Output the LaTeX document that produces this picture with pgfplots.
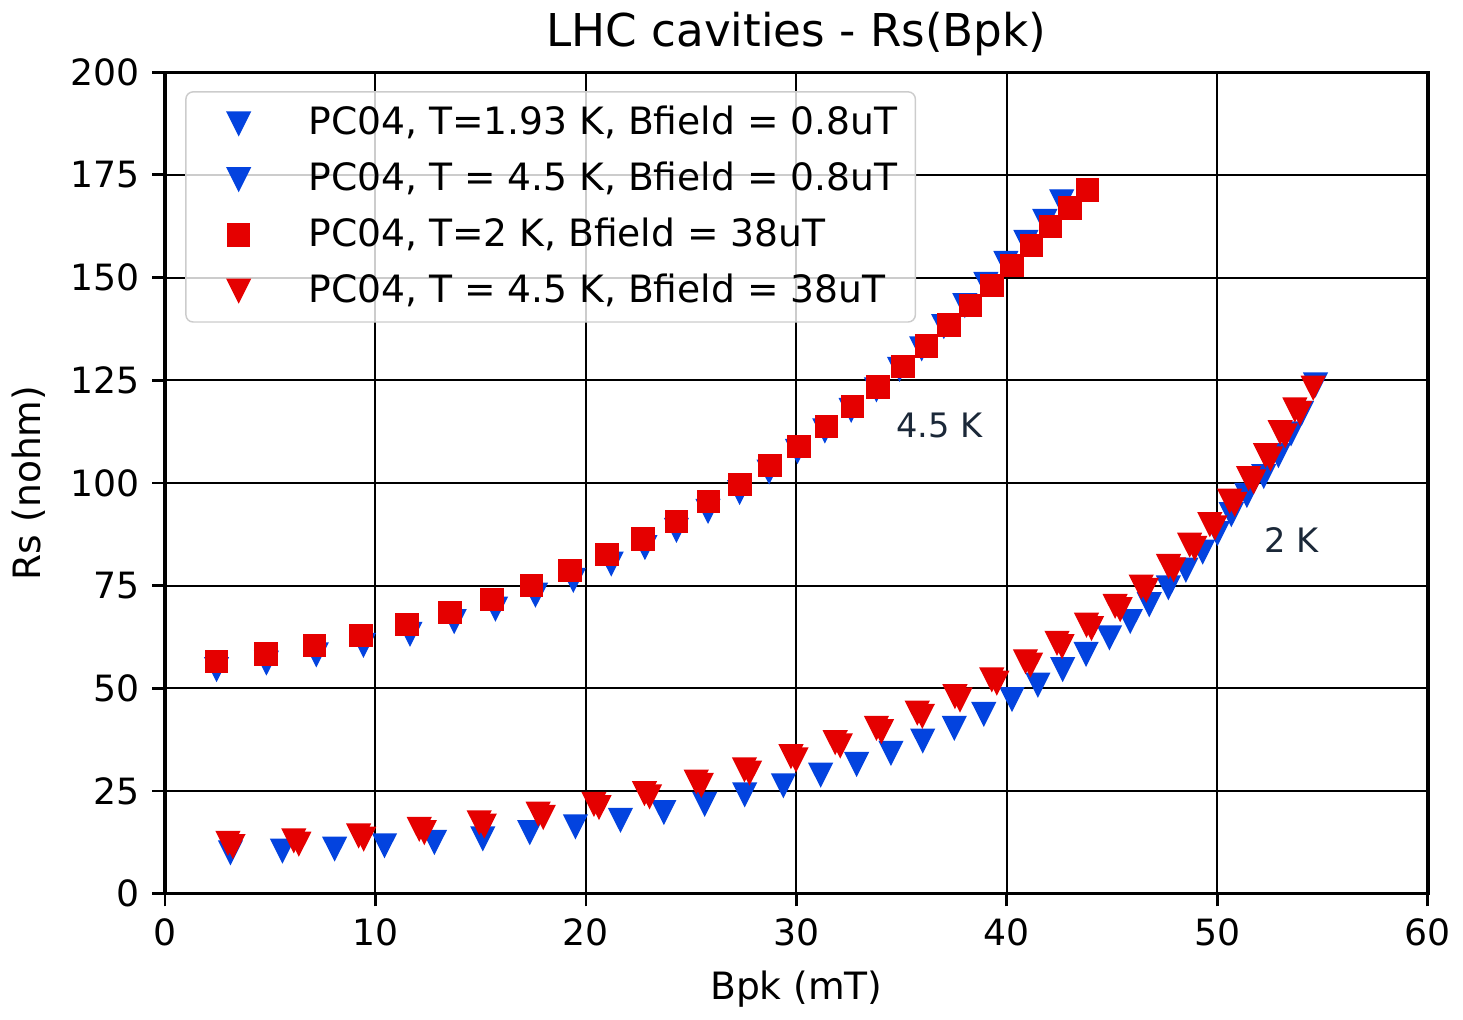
\documentclass[border=0pt]{standalone}
\usepackage{fontspec}
\setmainfont{DejaVu Sans}
\usepackage{pgfplots}
\pgfplotsset{compat=1.18}
\definecolor{mblue}{RGB}{3,67,223}
\definecolor{mred}{RGB}{229,0,0}
\definecolor{anno}{RGB}{27,40,56}
\begin{document}
\begin{tikzpicture}
\begin{axis}[scale only axis, width=349pt, height=227pt,
  xmin=0, xmax=60, ymin=0, ymax=200,
  xtick={0,10,...,60}, ytick={0,25,...,200},
  grid=major, major grid style={black, line width=0.55pt},
  axis line style={line width=0.9pt},
  tick align=outside, tick pos=left, major tick length=3.5pt,
  every tick/.style={black, line width=0.8pt},
  ticklabel style={font=\fontsize{10}{12}\selectfont},
  /pgf/number format/assume math mode=true,
  title={LHC cavities - Rs(Bpk)},
  title style={font=\fontsize{12.5}{14}\selectfont, yshift=-5pt},
  xlabel={Bpk (mT)}, ylabel={Rs (nohm)},
  label style={font=\fontsize{10.4}{12}\selectfont},
  legend style={at={(rel axis cs:0.016,0.977)}, anchor=north west,
    font=\fontsize{10.4}{12}\selectfont, draw=black!20, fill=white,
    fill opacity=0.8, text opacity=1, rounded corners=2pt,
    cells={anchor=west}, row sep=2pt},
  lgd/.style={legend image code/.code={\path (0cm,0cm) (1.0cm,0cm);
    \draw[##1] plot coordinates {(0.4cm,0cm)};}},
  tri/.style={only marks, color=#1, mark=triangle*, mark size=3.65pt,
    mark options={yshift=1pt, rotate=180, yscale=1.15, draw=none, fill=#1, fill opacity=1},
    lgd},
]
% PC04, T=1.93 K, 0.8 uT (lower curve)
\addplot[tri=mblue] coordinates {
(3.11,10.1) (5.58,10.5) (8.06,11.0) (10.43,11.8) (12.8,12.6) (15.1,13.5)
(17.33,15.0) (19.5,16.4) (21.64,18.0) (23.7,19.9) (25.64,21.9) (27.54,24.2)
(29.38,26.4) (31.15,29.0) (32.86,31.6) (34.49,34.3) (36.0,37.3) (37.5,40.4)
(38.9,43.8) (40.24,47.4) (41.47,50.9) (42.65,54.7) (43.76,58.4) (44.87,62.4)
(45.86,66.4) (46.76,70.5) (47.67,74.6) (48.5,78.9) (49.3,83.3) (50.0,87.8)
(50.66,92.4) (51.4,97.1) (52.2,101.7) (52.9,106.8) (53.5,112.1) (54.0,117.1)
(54.66,124.0)
};
\addlegendentry{PC04, T=1.93 K, Bfield = 0.8uT}
% PC04, T = 4.5 K, 0.8 uT (upper curve)
\addplot[tri=mblue] coordinates {
(2.45,54.7) (4.82,56.3) (7.19,58.3) (9.43,60.6) (11.64,63.3) (13.74,66.4)
(15.7,69.4) (17.6,72.8) (19.4,76.4) (21.2,80.4) (22.8,84.4) (24.3,88.6)
(25.8,93.2) (27.3,97.8) (28.7,102.8) (30.05,107.8) (31.35,112.8) (32.6,117.8)
(33.8,122.8) (34.9,127.8) (35.95,132.8) (37.0,138.2) (38.0,143.3) (39.0,148.5)
(39.95,153.6) (40.9,158.7) (41.8,163.8) (42.6,168.6)
};
\addlegendentry{PC04, T = 4.5 K, Bfield = 0.8uT}
% PC04, T=2 K, 38 uT (squares)
\addplot[only marks, mark=square*, mark size=3.05pt, mred,
  mark options={draw=none, fill=mred, fill opacity=1}, lgd] coordinates {
(2.45,56.5) (4.80,58.4) (7.11,60.4) (9.32,62.9) (11.49,65.5) (13.55,68.5)
(15.53,71.6) (17.42,75.0) (19.24,78.7) (21.0,82.6) (22.7,86.4) (24.3,90.6)
(25.83,95.5) (27.33,99.6) (28.75,104.2) (30.13,108.9) (31.42,113.7) (32.67,118.6)
(33.88,123.4) (35.05,128.4) (36.17,133.3) (37.25,138.4) (38.28,143.2) (39.3,148.1)
(40.25,152.9) (41.17,157.8) (42.08,162.4) (43.0,166.9) (43.83,171.3)
};
\addlegendentry{PC04, T=2 K, Bfield = 38uT}
% PC04, T = 4.5 K, 38 uT (lower curve, pairs of close readings)
\addplot[tri=mred] coordinates {
(2.99,12.4) (3.23,11.6) (6.12,13.0) (6.36,12.2) (9.20,14.2) (9.44,13.4)
(12.08,15.8) (12.32,15.0) (14.93,17.4) (15.17,16.6) (17.73,19.5) (17.97,18.7)
(20.38,21.9) (20.62,21.1) (22.78,24.5) (23.02,23.7) (25.24,27.3) (25.48,26.5)
(27.53,30.3) (27.77,29.5) (29.74,33.5) (29.98,32.7) (31.84,36.9) (32.08,36.1)
(33.80,40.4) (34.04,39.6) (35.74,44.1) (35.98,43.3) (37.53,48.1) (37.77,47.3)
(39.28,52.2) (39.52,51.4) (40.88,56.6) (41.12,55.8) (42.38,61.1) (42.62,60.3)
(43.78,65.5) (44.02,64.7) (45.14,70.1) (45.38,69.3) (46.38,74.8) (46.62,74.0)
(47.68,79.8) (47.92,79.0) (48.68,85.0) (48.92,84.2) (49.64,90.0) (49.88,89.2)
(50.58,95.7) (50.82,94.9) (51.48,101.2) (51.72,100.4) (52.28,106.8) (52.52,106.0)
(52.98,112.4) (53.22,111.6) (53.68,117.9) (53.92,117.1) (54.55,123.2)
};
\addlegendentry{PC04, T = 4.5 K, Bfield = 38uT}
\node[anno, font=\fontsize{9.3}{11}\selectfont] at (axis cs:36.8,114) {4.5 K};
\node[anno, font=\fontsize{9.3}{11}\selectfont] at (axis cs:53.5,86) {2 K};
\end{axis}
\end{tikzpicture}
\end{document}
